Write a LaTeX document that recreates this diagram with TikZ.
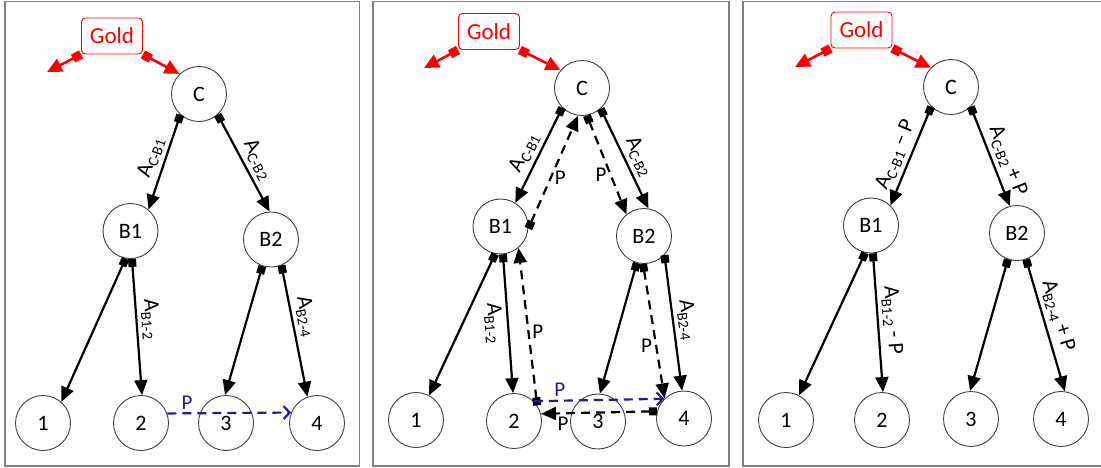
\documentclass[tikz,border=0pt]{standalone}
\usepackage{fontspec}
\setmainfont{Carlito}
\usetikzlibrary{arrows.meta}
\definecolor{pblue}{RGB}{45,20,160}
\definecolor{framegray}{RGB}{128,128,128}
\newcommand{\Aflow}[1]{A\raisebox{-4pt}{\fontsize{15}{17}\selectfont #1}}

\begin{document}
\begin{tikzpicture}[x=1pt, y=-1pt,
    vtx/.style={circle, draw=black!75, line width=0.9pt, fill=white, minimum size=55pt,
        inner sep=0pt, font=\fontsize{22}{26}\selectfont},
    goldbox/.style={rectangle, rounded corners=4pt, draw=red, line width=0.9pt, text=red,
        minimum width=61pt, minimum height=36pt, font=\fontsize{23}{27}\selectfont},
    flow/.style={line width=2.2pt, arrows={Square[length=8pt,width=8pt]-Triangle[length=15pt,width=13pt]}},
    redflow/.style={line width=2.6pt, red, arrows={Square[length=9pt,width=9pt]-Triangle[length=15pt,width=14pt]}},
    pflow/.style={flow, dash pattern=on 9pt off 6pt},
    bluep/.style={line width=2.2pt, pblue, dash pattern=on 9pt off 6pt,
        arrows={-Straight Barb[length=6pt,width=13pt]}},
    alab/.style={sloped, inner sep=4pt, font=\fontsize{22}{26}\selectfont},
    plab/.style={inner sep=3pt, font=\fontsize{21}{25}\selectfont}]
\useasboundingbox (0,0) rectangle (1101,467);

% panel frames
\draw[framegray, line width=1.5pt] (5,1.5) rectangle (359.5,466);
\draw[framegray, line width=1.5pt] (373,1.5) rectangle (729,466);
\draw[framegray, line width=1.5pt] (1101,1.5) -- (743,1.5) -- (743,466) -- (1101,466);

% first panel
\node[goldbox] (golda) at (112,36) {Gold};
\coordinate (enda) at (47,72);
\node[vtx] (Ca) at (199,94) {C};
\node[vtx] (B1a) at (130.5,231) {B1};
\node[vtx] (B2a) at (271,239.5) {B2};
\node[vtx] (n1a) at (43,423) {1};
\node[vtx] (n2a) at (141,423) {2};
\node[vtx] (n3a) at (226,423) {3};
\node[vtx] (n4a) at (317,423) {4};
\draw[redflow] (golda.south west) -- (enda);
\draw[redflow] (golda.south east) -- (Ca.134);
\draw[flow] (Ca.228) -- (B1a.50) node[alab, above, pos=0.5] {\Aflow{C-B1}};
\draw[flow] (Ca.312) -- (B2a.93) node[alab, above, pos=0.53] {\Aflow{C-B2}};
\draw[flow] (B1a.260) -- (n1a.49);
\draw[flow] (B1a.273) -- (n2a.88) node[alab, above, pos=0.45] {\Aflow{B1-2}};
\draw[flow] (B2a.252) -- (n3a.92);
\draw[flow] (B2a.292) -- (n4a.110) node[alab, above, pos=0.41] {\Aflow{B2-4}};
\draw[bluep] (n2a.20) -- (n4a.158) node[plab, above, pos=0.16] {P};

% second panel
\node[goldbox] (goldb) at (489,31.5) {Gold};
\coordinate (endb) at (424,68);
\node[vtx] (Cb) at (582,88) {C};
\node[vtx] (B1b) at (500.5,226.5) {B1};
\node[vtx] (B2b) at (644,236) {B2};
\node[vtx] (n1b) at (416,420) {1};
\node[vtx] (n2b) at (514,421) {2};
\node[vtx] (n3b) at (598,421.5) {3};
\node[vtx] (n4b) at (684,418.5) {4};
\draw[redflow] (goldb.south west) -- (endb);
\draw[redflow] (goldb.south east) -- (Cb.140);
\draw[flow] (Cb.225) -- (B1b.58) node[alab, above, pos=0.54] {\Aflow{C-B1}};
\draw[flow] (Cb.312) -- (B2b.81) node[alab, above, pos=0.54] {\Aflow{C-B2}};
\draw[pflow] (B1b.356) -- (Cb.262) node[plab, right, pos=0.45] {P};
\draw[pflow] (Cb.280) -- (B2b.129) node[plab, left, pos=0.6] {P};
\draw[flow] (B1b.259) -- (n1b.62);
\draw[flow] (B1b.275) -- (n2b.92) node[alab, below, pos=0.49] {\Aflow{B1-2}};
\draw[pflow] (n2b.34) -- (B1b.310) node[plab, right, pos=0.47] {P};
\draw[flow] (B2b.255) -- (n3b.86);
\draw[flow] (B2b.317) -- (n4b.94) node[alab, above, pos=0.49] {\Aflow{B2-4}};
\draw[pflow] (B2b.268) -- (n4b.134) node[plab, left, pos=0.61] {P};
\draw[bluep] (n2b.45) -- (n4b.135) node[plab, above, pos=0.2] {P};
\draw[pflow] (n4b.165) -- (n2b.15) node[plab, below, pos=0.81] {P};

% third panel
\node[goldbox] (goldc) at (861.5,30) {Gold};
\coordinate (endc) at (795,67);
\node[vtx] (Cc) at (951,87) {C};
\node[vtx] (B1c) at (871,225.5) {B1};
\node[vtx] (B2c) at (1017,233) {B2};
\node[vtx] (n1c) at (786,420) {1};
\node[vtx] (n2c) at (882,420) {2};
\node[vtx] (n3c) at (971,419) {3};
\node[vtx] (n4c) at (1061,419) {4};
\draw[redflow] (goldc.south west) -- (endc);
\draw[redflow] (goldc.south east) -- (Cc.136);
\draw[flow] (Cc.225) -- (B1c.46) node[alab, above, pos=0.54] {\Aflow{C-B1} \textendash{} P};
\draw[flow] (Cc.315) -- (B2c.105) node[alab, above, pos=0.6] {\Aflow{C-B2} + P};
\draw[flow] (B1c.258) -- (n1c.62);
\draw[flow] (B1c.274) -- (n2c.88) node[alab, above, pos=0.49] {\Aflow{B1-2} - P};
\draw[flow] (B2c.251) -- (n3c.92);
\draw[flow] (B2c.289) -- (n4c.82) node[alab, above, pos=0.46] {\Aflow{B2-4} + P};
\end{tikzpicture}
\end{document}
